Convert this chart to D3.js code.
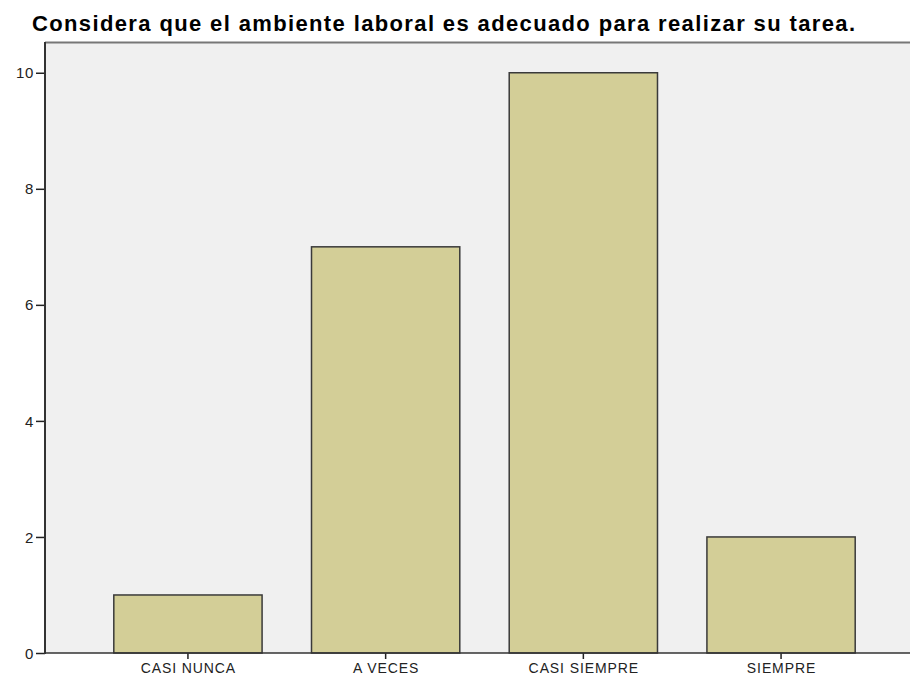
<!DOCTYPE html>
<html><head><meta charset="utf-8">
<script src="https://cdn.jsdelivr.net/npm/d3@7"></script>
<style>
html,body{margin:0;padding:0;background:#fff;overflow:hidden;}
text{font-family:"Liberation Sans",Arial,sans-serif;}
</style></head>
<body>
<script>
const categories = ["CASI NUNCA", "A VECES", "CASI SIEMPRE", "SIEMPRE"];
const values = [1, 7, 10, 2];
const yTicks = [0, 2, 4, 6, 8, 10];
const title = "Considera que el ambiente laboral es adecuado para realizar su tarea.";

const W = 910, H = 681;
const mLeft = 45, mTop = 42, mBottom = 653, rightExt = 924;

const svg = d3.select("body").append("svg").attr("width", W).attr("height", H);

const x = d3.scaleBand().domain(categories).range([mLeft, rightExt]).paddingInner(0.25).paddingOuter(0.348);
const y = d3.scaleLinear().domain([0, 10.53]).range([mBottom, mTop]);

// plot background
svg.append("rect").attr("x", mLeft).attr("y", mTop).attr("width", rightExt - mLeft).attr("height", mBottom - mTop).attr("fill", "#f0f0f0");
svg.append("line").attr("x1", mLeft).attr("x2", W).attr("y1", mTop + 0.5).attr("y2", mTop + 0.5).attr("stroke", "#777").attr("stroke-width", 2);

// bars
svg.selectAll("rect.bar").data(values).enter().append("rect").attr("class", "bar")
  .attr("x", (d, i) => x(categories[i]))
  .attr("y", d => y(d))
  .attr("width", x.bandwidth())
  .attr("height", d => y(0) - y(d))
  .attr("fill", "#d3ce97")
  .attr("stroke", "#3a3a3a")
  .attr("stroke-width", 1.5);

// y axis
const yAxis = svg.append("g").attr("transform", `translate(${mLeft},0)`)
  .call(d3.axisLeft(y).tickValues(yTicks).tickSize(9).tickPadding(2));
yAxis.select(".domain").remove();
yAxis.selectAll(".tick line").attr("stroke", "#222").attr("stroke-width", 1.5);
yAxis.selectAll("text").attr("font-size", 15).attr("fill", "#222").attr("letter-spacing", 0.6).attr("dy", "0.34em");
svg.append("line").attr("x1", mLeft).attr("x2", mLeft).attr("y1", mTop).attr("y2", mBottom + 1).attr("stroke", "#333").attr("stroke-width", 2);

// x axis
const xAxis = svg.append("g").attr("transform", `translate(0,${mBottom})`)
  .call(d3.axisBottom(x).tickSize(6).tickPadding(4));
xAxis.select(".domain").remove();
xAxis.selectAll(".tick line").attr("stroke", "#222").attr("stroke-width", 1.5);
xAxis.selectAll("text").attr("font-size", 14).attr("fill", "#222").attr("letter-spacing", 0.9).attr("dx", "0.45");
svg.append("line").attr("x1", mLeft).attr("x2", W).attr("y1", mBottom).attr("y2", mBottom).attr("stroke", "#333").attr("stroke-width", 1.5);

// title
const t = svg.append("text").attr("x", 32).attr("y", 31).attr("font-size", 22).attr("font-weight", "bold").attr("fill", "#000").text(title);
const tl = t.node().getComputedTextLength();
t.attr("letter-spacing", (823 - tl) / (title.length - 1));
</script>
</body></html>
